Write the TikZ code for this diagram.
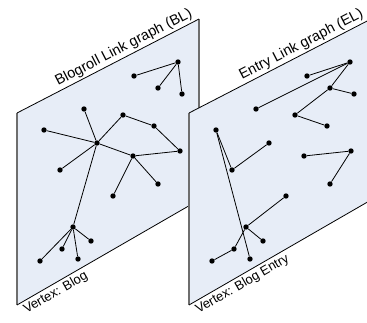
\documentclass[tikz,border=0pt]{standalone}
\usepackage{fontspec}
\setmainfont{Liberation Sans}
\definecolor{panelfill}{RGB}{231,237,247}
\definecolor{sidegray}{RGB}{110,110,110}
\begin{document}
\begin{tikzpicture}[x=1pt,y=-1pt,
  dot/.style={circle,fill=black,inner sep=0pt,minimum size=5.4pt},
  link/.style={draw=black,line width=0.8pt},
  rim/.style={draw=black,line width=0.8pt},
  side/.style={draw=sidegray,line width=1.6pt},
  title/.style={font=\fontsize{14.5}{17}\selectfont,inner sep=2pt},
  vlabel/.style={font=\fontsize{13}{15}\selectfont,inner sep=2.5pt}]
\useasboundingbox (0,0) rectangle (367,322);
% ---------- left panel ----------
\coordinate (LTL) at (17,113);
\coordinate (LTR) at (199,19);
\coordinate (LBR) at (199,200);
\coordinate (LBL) at (17,305);
\fill[panelfill] (LTL) -- (LTR) -- (LBR) -- (LBL) -- cycle;
\draw[side] (LTL) -- (LBL);
\draw[side] (LTR) -- (LBR);
\draw[rim] (LTL) -- node[pos=0.61,above,sloped,title]{Blogroll Link graph (BL)} (LTR);
\draw[rim] (LBL) -- node[pos=0.005,anchor=north west,sloped,vlabel]{Vertex: Blog} (LBR);
% nodes
\node[dot] (a1) at (178,62) {};
\node[dot] (a2) at (134,76) {};
\node[dot] (a3) at (158,88) {};
\node[dot] (a4) at (182,94) {};
\node[dot] (b) at (84,109) {};
\node[dot] (c) at (44,130) {};
\node[dot] (hub) at (97,143) {};
\node[dot] (d) at (123,115) {};
\node[dot] (e) at (154,126) {};
\node[dot] (f) at (180,151) {};
\node[dot] (g) at (133,156) {};
\node[dot] (h) at (60,170) {};
\node[dot] (i) at (113,196) {};
\node[dot] (j) at (158,184) {};
\node[dot] (k) at (73,227) {};
\node[dot] (l) at (91,241) {};
\node[dot] (m) at (62,249) {};
\node[dot] (n) at (78,259) {};
\node[dot] (o) at (40,261) {};
\draw[link] (a1) -- (a2);
\draw[link] (a1) -- (a3);
\draw[link] (a1) -- (a4);
\draw[link] (hub) -- (b);
\draw[link] (hub) -- (c);
\draw[link] (hub) -- (d);
\draw[link] (d) -- (e);
\draw[link] (e) -- (f);
\draw[link] (f) -- (g);
\draw[link] (g) -- (hub);
\draw[link] (hub) -- (h);
\draw[link] (g) -- (i);
\draw[link] (g) -- (j);
\draw[link] (hub) -- (k);
\draw[link] (k) -- (l);
\draw[link] (k) -- (m);
\draw[link] (k) -- (n);
\draw[link] (k) -- (o);
% ---------- right panel ----------
\coordinate (RTL) at (189,113);
\coordinate (RTR) at (371,19);
\coordinate (RBR) at (371,200);
\coordinate (RBL) at (189,305);
\fill[panelfill] (RTL) -- (RTR) -- (RBR) -- (RBL) -- cycle;
\draw[side] (RTL) -- (RBL);
\draw[rim] (RTL) -- node[pos=0.64,above,sloped,title]{Entry Link graph (EL)} (RTR);
\draw[rim] (RBL) -- node[pos=0.005,anchor=north west,sloped,vlabel]{Vertex: Blog Entry} (RBR);
% nodes
\node[dot] (p1) at (350,62) {};
\node[dot] (p2) at (307,76) {};
\node[dot] (p3) at (330,88) {};
\node[dot] (p4) at (354,94) {};
\node[dot] (p5) at (256,109) {};
\node[dot] (p6) at (295,115) {};
\node[dot] (p7) at (327,126) {};
\node[dot] (q1) at (216,130) {};
\node[dot] (q2) at (269,143) {};
\node[dot] (q3) at (232,170) {};
\node[dot] (r1) at (304,156) {};
\node[dot] (r2) at (351,151) {};
\node[dot] (r3) at (330,184) {};
\node[dot] (s) at (246,227) {};
\node[dot] (s1) at (286,196) {};
\node[dot] (s2) at (263,241) {};
\node[dot] (s3) at (234,249) {};
\node[dot] (s4) at (212,261) {};
\node[dot] (r5) at (250,259) {};
\draw[link] (p1) -- (p2);
\draw[link] (p1) -- (p5);
\draw[link] (p1) -- (p3);
\draw[link] (p3) -- (p4);
\draw[link] (p3) -- (p6);
\draw[link] (p6) -- (p7);
\draw[link] (q1) -- (q3);
\draw[link] (q3) -- (q2);
\draw[link] (q1) -- (r5);
\draw[link] (r1) -- (r2);
\draw[link] (r2) -- (r3);
\draw[link] (s) -- (s1);
\draw[link] (s) -- (s2);
\draw[link] (s) -- (s3);
\draw[link] (s3) -- (s4);
\end{tikzpicture}
\end{document}
